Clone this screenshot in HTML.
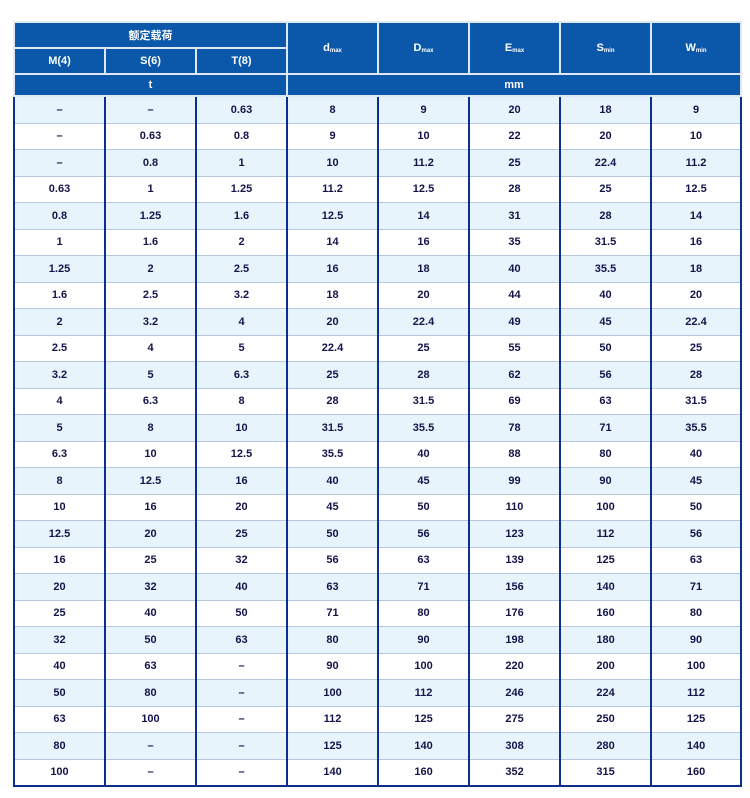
<!DOCTYPE html>
<html><head><style>
body{margin:0;background:#fff;width:750px;height:798px;position:relative;font-family:"Liberation Sans","Noto Sans CJK SC",sans-serif;}
table{position:absolute;left:13px;top:21px;border-collapse:collapse;table-layout:fixed;width:727px;}
td{text-align:center;padding:0;font-size:11px;font-weight:bold;color:#14144a;}
.h td{background:#0b58ab;color:#fff;border:2px solid #dfe8f4;}
.b td{border-left:2px solid #0b2f8a;border-right:2px solid #0b2f8a;border-bottom:1px solid #b9c6df;height:25.5px;}
.b:nth-child(odd) td{background:#e8f4fc;}
.b:last-child td{border-bottom:2px solid #0b2f8a;}
sub{font-size:6px;vertical-align:-1px;}
</style></head><body>
<table>
<colgroup><col style="width:91px"><col style="width:91px"><col style="width:91px"><col style="width:91px"><col style="width:91px"><col style="width:91px"><col style="width:91px"><col style="width:90px"></colgroup>
<tbody>
<tr class="h" style="height:26px"><td colspan="3">额定载荷</td><td rowspan="2">d<sub>max</sub></td><td rowspan="2">D<sub>max</sub></td><td rowspan="2">E<sub>max</sub></td><td rowspan="2">S<sub>min</sub></td><td rowspan="2">W<sub>min</sub></td></tr>
<tr class="h" style="height:26px"><td>M(4)</td><td>S(6)</td><td>T(8)</td></tr>
<tr class="h" style="height:22px"><td colspan="3">t</td><td colspan="5">mm</td></tr>
</tbody>
<tbody>
<tr class="b"><td>–</td><td>–</td><td>0.63</td><td>8</td><td>9</td><td>20</td><td>18</td><td>9</td></tr>
<tr class="b"><td>–</td><td>0.63</td><td>0.8</td><td>9</td><td>10</td><td>22</td><td>20</td><td>10</td></tr>
<tr class="b"><td>–</td><td>0.8</td><td>1</td><td>10</td><td>11.2</td><td>25</td><td>22.4</td><td>11.2</td></tr>
<tr class="b"><td>0.63</td><td>1</td><td>1.25</td><td>11.2</td><td>12.5</td><td>28</td><td>25</td><td>12.5</td></tr>
<tr class="b"><td>0.8</td><td>1.25</td><td>1.6</td><td>12.5</td><td>14</td><td>31</td><td>28</td><td>14</td></tr>
<tr class="b"><td>1</td><td>1.6</td><td>2</td><td>14</td><td>16</td><td>35</td><td>31.5</td><td>16</td></tr>
<tr class="b"><td>1.25</td><td>2</td><td>2.5</td><td>16</td><td>18</td><td>40</td><td>35.5</td><td>18</td></tr>
<tr class="b"><td>1.6</td><td>2.5</td><td>3.2</td><td>18</td><td>20</td><td>44</td><td>40</td><td>20</td></tr>
<tr class="b"><td>2</td><td>3.2</td><td>4</td><td>20</td><td>22.4</td><td>49</td><td>45</td><td>22.4</td></tr>
<tr class="b"><td>2.5</td><td>4</td><td>5</td><td>22.4</td><td>25</td><td>55</td><td>50</td><td>25</td></tr>
<tr class="b"><td>3.2</td><td>5</td><td>6.3</td><td>25</td><td>28</td><td>62</td><td>56</td><td>28</td></tr>
<tr class="b"><td>4</td><td>6.3</td><td>8</td><td>28</td><td>31.5</td><td>69</td><td>63</td><td>31.5</td></tr>
<tr class="b"><td>5</td><td>8</td><td>10</td><td>31.5</td><td>35.5</td><td>78</td><td>71</td><td>35.5</td></tr>
<tr class="b"><td>6.3</td><td>10</td><td>12.5</td><td>35.5</td><td>40</td><td>88</td><td>80</td><td>40</td></tr>
<tr class="b"><td>8</td><td>12.5</td><td>16</td><td>40</td><td>45</td><td>99</td><td>90</td><td>45</td></tr>
<tr class="b"><td>10</td><td>16</td><td>20</td><td>45</td><td>50</td><td>110</td><td>100</td><td>50</td></tr>
<tr class="b"><td>12.5</td><td>20</td><td>25</td><td>50</td><td>56</td><td>123</td><td>112</td><td>56</td></tr>
<tr class="b"><td>16</td><td>25</td><td>32</td><td>56</td><td>63</td><td>139</td><td>125</td><td>63</td></tr>
<tr class="b"><td>20</td><td>32</td><td>40</td><td>63</td><td>71</td><td>156</td><td>140</td><td>71</td></tr>
<tr class="b"><td>25</td><td>40</td><td>50</td><td>71</td><td>80</td><td>176</td><td>160</td><td>80</td></tr>
<tr class="b"><td>32</td><td>50</td><td>63</td><td>80</td><td>90</td><td>198</td><td>180</td><td>90</td></tr>
<tr class="b"><td>40</td><td>63</td><td>–</td><td>90</td><td>100</td><td>220</td><td>200</td><td>100</td></tr>
<tr class="b"><td>50</td><td>80</td><td>–</td><td>100</td><td>112</td><td>246</td><td>224</td><td>112</td></tr>
<tr class="b"><td>63</td><td>100</td><td>–</td><td>112</td><td>125</td><td>275</td><td>250</td><td>125</td></tr>
<tr class="b"><td>80</td><td>–</td><td>–</td><td>125</td><td>140</td><td>308</td><td>280</td><td>140</td></tr>
<tr class="b"><td>100</td><td>–</td><td>–</td><td>140</td><td>160</td><td>352</td><td>315</td><td>160</td></tr>
</tbody>
</table>
</body></html>
